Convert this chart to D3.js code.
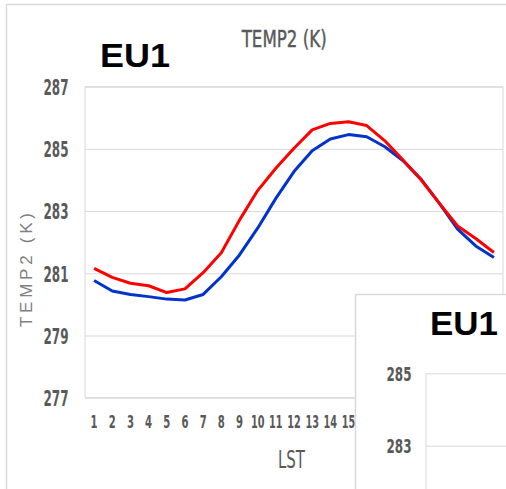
<!DOCTYPE html>
<html>
<head>
<meta charset="utf-8">
<script src="https://cdn.jsdelivr.net/npm/d3@7"></script>
<style>
  html, body { margin: 0; padding: 0; background: #fff; }
  svg { display: block; }
</style>
</head>
<body>
<div id="chart"></div>
<script>
// ---- data ----
const hours = [1,2,3,4,5,6,7,8,9,10,11,12,13,14,15,16,17,18,19,20,21,22,23];
const seriesRed  = [281.16,280.87,280.68,280.60,280.38,280.50,281.02,281.66,282.71,283.66,284.38,285.02,285.61,285.82,285.87,285.75,285.26,284.64,284.00,283.25,282.52,282.12,281.67];
const seriesBlue = [280.77,280.43,280.32,280.25,280.17,280.14,280.32,280.89,281.59,282.45,283.41,284.27,284.94,285.32,285.46,285.39,285.07,284.62,284.02,283.25,282.42,281.88,281.51];
const xTickLabels = [1,2,3,4,5,6,7,8,9,10,11,12,13,14,15]; // the rest lie under the overlapping panel
const yTicks = [277,279,281,283,285,287];
const insetTicks = [283,285];
const titleText = "TEMP2 (K)";
const yTitleText = "TEMP2 (K)";
const xTitleText = "LST";
const panelLabel = "EU1";

const W = 506, H = 489;
const svg = d3.select("#chart").append("svg").attr("width", W).attr("height", H);

const condensed = "'Liberation Sans Narrow','Arial Narrow','DejaVu Sans Condensed',sans-serif";
const grey = "#595959";
const gridCol = "#d9d9d9";

// outer frame
svg.append("rect").attr("x", 6.5).attr("y", 4.5).attr("width", 520).attr("height", 520)
  .attr("fill", "#fff").attr("stroke", gridCol).attr("stroke-width", 1.5);

// ---- main chart ----
const L = 85, R = 503, T = 86.7, B = 397.7;
const x = d3.scaleBand().domain(hours).range([L, R]);
const y = d3.scaleLinear().domain([277, 287]).range([B, T]);

// gridlines
svg.append("g").attr("transform", `translate(${L},0)`)
  .call(d3.axisLeft(y).tickValues(yTicks).tickSize(-(R - L)).tickFormat(""))
  .call(g => g.select(".domain").remove())
  .call(g => g.selectAll("line").attr("stroke", gridCol).attr("stroke-width", 1));

// plot border
svg.append("rect").attr("x", L).attr("y", T).attr("width", R - L).attr("height", B - T)
  .attr("fill", "none").attr("stroke", gridCol).attr("stroke-width", 1);

// y tick labels
svg.append("g").attr("transform", `translate(${L},1)`)
  .call(d3.axisLeft(y).tickValues(yTicks).tickSize(0).tickPadding(16.5).tickFormat(d3.format("d")))
  .call(g => g.select(".domain").remove())
  .call(g => g.selectAll("text")
    .attr("font-family", condensed).attr("font-weight", "bold").attr("font-size", 21)
    .attr("fill", grey).attr("textLength", 25).attr("lengthAdjust", "spacingAndGlyphs"));

// x tick labels
svg.append("g").attr("transform", `translate(0,${B})`)
  .call(d3.axisBottom(x).tickValues(xTickLabels).tickSize(0).tickPadding(17.5))
  .call(g => g.select(".domain").remove())
  .call(g => g.selectAll("text")
    .attr("font-family", condensed).attr("font-weight", "bold").attr("font-size", 17.5)
    .attr("fill", grey)
    .attr("textLength", d => String(d).length > 1 ? 13.5 : 7)
    .attr("lengthAdjust", "spacingAndGlyphs"));

// lines
const line = d3.line().x((d, i) => x(hours[i]) + x.bandwidth() / 2).y(d => y(d));
svg.append("path").datum(seriesBlue).attr("d", line)
  .attr("fill", "none").attr("stroke", "#0033cc").attr("stroke-width", 3).attr("stroke-linejoin", "round");
svg.append("path").datum(seriesRed).attr("d", line)
  .attr("fill", "none").attr("stroke", "#ff0000").attr("stroke-width", 3).attr("stroke-linejoin", "round");

// titles
svg.append("text").attr("x", 284.2).attr("y", 46.7).attr("text-anchor", "middle")
  .attr("font-family", condensed).attr("font-size", 23).attr("fill", grey)
  .attr("stroke", grey).attr("stroke-width", 0.4)
  .attr("textLength", 85).attr("lengthAdjust", "spacingAndGlyphs").text(titleText);

svg.append("text").attr("x", 291.5).attr("y", 468).attr("text-anchor", "middle")
  .attr("font-family", condensed).attr("font-size", 24).attr("fill", grey)
  .attr("textLength", 27).attr("lengthAdjust", "spacingAndGlyphs").text(xTitleText);

svg.append("text").attr("transform", "translate(32,270) rotate(-90)").attr("text-anchor", "middle")
  .attr("font-family", "'Liberation Sans',Arial,sans-serif").attr("font-size", 17).attr("fill", "#808080")
  .attr("textLength", 114).attr("lengthAdjust", "spacing").text(yTitleText);

svg.append("text").attr("x", 100).attr("y", 66.7)
  .attr("font-family", "'Liberation Sans',Arial,sans-serif").attr("font-weight", "bold").attr("font-size", 33)
  .attr("fill", "#000").attr("textLength", 70).attr("lengthAdjust", "spacingAndGlyphs").text(panelLabel);

// ---- overlapping second panel ----
const panel = svg.append("g");
panel.append("rect").attr("x", 355.5).attr("y", 294.5).attr("width", 200).attr("height", 250)
  .attr("fill", "#fff").attr("stroke", gridCol).attr("stroke-width", 1.5);

panel.append("text").attr("x", 430).attr("y", 335)
  .attr("font-family", "'Liberation Sans',Arial,sans-serif").attr("font-weight", "bold").attr("font-size", 33)
  .attr("fill", "#000").attr("textLength", 68).attr("lengthAdjust", "spacingAndGlyphs").text(panelLabel);

const L2 = 426, T2 = 373.3;
const y2 = d3.scaleLinear().domain([283, 285]).range([445.7, T2]);
panel.append("g").attr("transform", `translate(${L2},0)`)
  .call(d3.axisLeft(y2).tickValues(insetTicks).tickSize(-200).tickFormat(""))
  .call(g => g.select(".domain").remove())
  .call(g => g.selectAll("line").attr("stroke", gridCol).attr("stroke-width", 1));
panel.append("line").attr("x1", L2).attr("x2", L2).attr("y1", T2).attr("y2", H + 10)
  .attr("stroke", gridCol).attr("stroke-width", 1);
panel.append("g").attr("transform", `translate(${L2},1)`)
  .call(d3.axisLeft(y2).tickValues(insetTicks).tickSize(0).tickPadding(14.5).tickFormat(d3.format("d")))
  .call(g => g.select(".domain").remove())
  .call(g => g.selectAll("text")
    .attr("font-family", condensed).attr("font-weight", "bold").attr("font-size", 19)
    .attr("fill", grey).attr("textLength", 25).attr("lengthAdjust", "spacingAndGlyphs"));
</script>
</body>
</html>
